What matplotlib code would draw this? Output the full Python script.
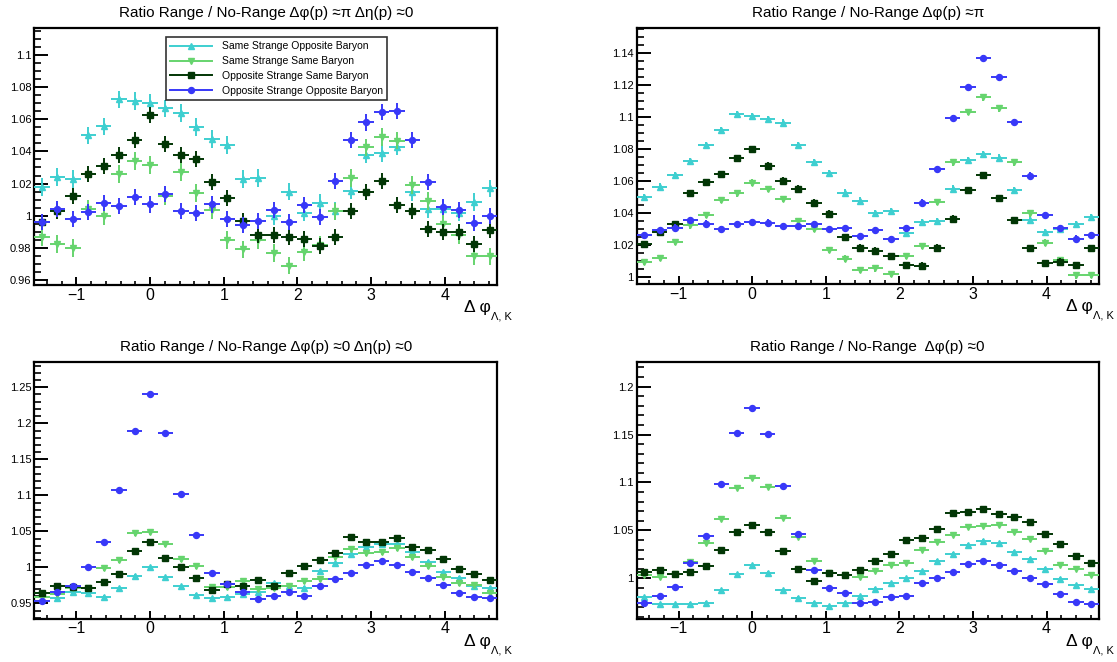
import numpy as np
import matplotlib
matplotlib.use('Agg')
import matplotlib.pyplot as plt
from matplotlib.lines import Line2D
from matplotlib.ticker import MultipleLocator, FuncFormatter

plt.rcParams['font.family'] = ['Liberation Sans', 'DejaVu Sans']

# ---------------- data ----------------
n_bins = 30
x_lo, x_hi = -np.pi / 2, 3 * np.pi / 2

series_names = ["Same Strange Opposite Baryon", "Same Strange Same Baryon",
                "Opposite Strange Same Baryon", "Opposite Strange Opposite Baryon"]

titles = ["Ratio Range / No-Range \u0394\u03c6(p) \u2248\u03c0 \u0394\u03b7(p) \u22480",
          "Ratio Range / No-Range \u0394\u03c6(p) \u2248\u03c0",
          "Ratio Range / No-Range \u0394\u03c6(p) \u22480 \u0394\u03b7(p) \u22480",
          "Ratio Range / No-Range  \u0394\u03c6(p) \u22480"]

# panel 1: dphi ~ pi, deta ~ 0
p1_ssob = [1.018, 1.024, 1.023, 1.050, 1.0556, 1.0724, 1.0714, 1.0703, 1.0668, 1.0639,
           1.055, 1.0477, 1.044, 1.0228, 1.0236, 0.9996, 1.015, 1.002, 1.008, 1.003,
           1.0156, 1.038, 1.039, 1.043, 1.0145, 1.004, 1.004, 1.002, 1.0087, 1.017]
p1_sssb = [0.9867, 0.9824, 0.980, 1.004, 0.9996, 1.026, 1.034, 1.0315, 1.012, 1.027,
           1.014, 1.0033, 0.9847, 0.979, 0.985, 0.977, 0.969, 0.9774, 0.982, 1.0027,
           1.0234, 1.0425, 1.049, 1.0467, 1.019, 1.009, 0.995, 0.988, 0.9747, 0.9747]
p1_ossb = [0.996, 1.003, 1.012, 1.026, 1.0307, 1.038, 1.047, 1.0624, 1.0446, 1.0375,
           1.035, 1.0207, 1.011, 0.997, 0.988, 0.9878, 0.9865, 0.9857, 0.981, 0.987,
           1.003, 1.0147, 1.0214, 1.0068, 1.003, 0.992, 0.990, 0.990, 0.9826, 0.991]
p1_osob = [0.9959, 1.004, 0.998, 1.0025, 1.008, 1.006, 1.0116, 1.007, 1.0137, 1.003,
           1.0015, 1.007, 0.998, 0.994, 0.997, 1.0033, 0.996, 1.0064, 0.9994, 1.0218,
           1.0473, 1.058, 1.0643, 1.0653, 1.0473, 1.0207, 1.0054, 1.0033, 0.9954, 0.9996]
p1_err = [0.0055, 0.0055, 0.005, 0.005]

# panel 2: dphi ~ pi
p2_ssob = [1.0498, 1.0565, 1.0638, 1.0724, 1.0826, 1.092, 1.1018, 1.1007, 1.0989, 1.0966,
           1.0824, 1.0717, 1.0649, 1.0528, 1.0478, 1.0398, 1.0413, 1.0277, 1.0344, 1.0352,
           1.0553, 1.0732, 1.077, 1.0747, 1.0544, 1.0357, 1.0279, 1.030, 1.0332, 1.0377]
p2_sssb = [1.0094, 1.0117, 1.0219, 1.0323, 1.0388, 1.0482, 1.0523, 1.059, 1.055, 1.0488,
           1.035, 1.030, 1.0169, 1.0115, 1.0044, 1.0054, 1.0017, 1.0131, 1.0192, 1.0469,
           1.0717, 1.1034, 1.1124, 1.1055, 1.0717, 1.0398, 1.0215, 1.0106, 1.001, 1.0013]
p2_ossb = [1.0206, 1.0284, 1.033, 1.0523, 1.0594, 1.0642, 1.0745, 1.0801, 1.0697, 1.0603,
           1.0553, 1.0465, 1.0396, 1.0252, 1.0184, 1.0165, 1.0131, 1.0075, 1.0071, 1.0184,
           1.0365, 1.0546, 1.064, 1.0496, 1.0355, 1.0179, 1.0086, 1.0096, 1.0075, 1.0179]
p2_osob = [1.0263, 1.0294, 1.0309, 1.0357, 1.0334, 1.030, 1.033, 1.0344, 1.034, 1.0319,
           1.0319, 1.0332, 1.030, 1.0304, 1.0254, 1.0294, 1.0236, 1.0307, 1.0465, 1.0676,
           1.0995, 1.1187, 1.137, 1.1249, 1.097, 1.0634, 1.0388, 1.0304, 1.024, 1.0263]
p2_err = [0.002, 0.002, 0.002, 0.002]

# panel 3: dphi ~ 0, deta ~ 0
p3_ssob = [0.9648, 0.9574, 0.9657, 0.9639, 0.9593, 0.9713, 0.9884, 1.0005, 0.9866, 0.9741,
           0.962, 0.957, 0.9593, 0.9634, 0.9662, 0.9778, 0.9736, 0.972, 0.9954, 1.0056,
           1.0185, 1.0278, 1.0324, 1.0324, 1.0218, 1.008, 0.993, 0.9856, 0.9745, 0.9718]
p3_sssb = [0.9593, 0.963, 0.972, 0.9708, 0.9995, 1.0097, 1.0472, 1.049, 1.0324, 1.0111,
           1.0023, 0.9731, 0.9722, 0.981, 0.9694, 0.9713, 0.9741, 0.9815, 0.9843, 1.0148,
           1.025, 1.0194, 1.0218, 1.0264, 1.0148, 1.0019, 0.987, 0.9778, 0.9755, 0.9648]
p3_ossb = [0.964, 0.9745, 0.973, 0.9708, 0.9796, 0.9912, 1.0227, 1.0352, 1.0125, 1.0005,
           0.9852, 0.9685, 0.9769, 0.9741, 0.982, 0.9741, 0.9926, 1.0023, 1.0102, 1.0194,
           1.0426, 1.0352, 1.0356, 1.0407, 1.0278, 1.024, 1.0116, 0.9977, 0.9912, 0.9824]
p3_osob = [0.9532, 0.9662, 0.9745, 1.0005, 1.0347, 1.108, 1.19, 1.240, 1.187, 1.1014,
           1.0444, 0.9921, 0.9773, 0.9653, 0.956, 0.960, 0.9653, 0.960, 0.974, 0.9833,
           0.9917, 1.003, 1.0093, 1.0032, 0.993, 0.9856, 0.9755, 0.9648, 0.9593, 0.9574]
p3_err = [0.002, 0.004, 0.002, 0.002]

# panel 4: dphi ~ 0
p4_ssob = [0.9802, 0.9732, 0.9729, 0.9736, 0.9746, 0.9878, 1.0042, 1.0136, 1.0056, 0.9875,
           0.9798, 0.9746, 0.9708, 0.9746, 0.9812, 0.9889, 0.9948, 1.0003, 1.0076, 1.0181,
           1.0254, 1.0348, 1.0393, 1.0365, 1.0275, 1.0202, 1.0101, 0.9993, 0.993, 0.9892]
p4_sssb = [1.0035, 1.001, 1.0049, 1.0167, 1.0369, 1.0619, 1.0939, 1.105, 1.0949, 1.0633,
           1.0431, 1.0177, 1.0056, 1.0038, 1.001, 1.008, 1.0143, 1.016, 1.0292, 1.0379,
           1.0449, 1.0539, 1.0549, 1.056, 1.048, 1.041, 1.0282, 1.0136, 1.0097, 1.0038]
p4_ossb = [1.0063, 1.0083, 1.0049, 1.007, 1.0132, 1.0296, 1.0483, 1.056, 1.0483, 1.0289,
           1.0097, 0.9976, 1.0059, 1.0035, 1.0083, 1.0177, 1.0257, 1.0403, 1.0421, 1.0515,
           1.0685, 1.0692, 1.0723, 1.0671, 1.0636, 1.0584, 1.0466, 1.0358, 1.0236, 1.0163]
p4_osob = [0.9746, 0.9812, 0.9906, 1.0156, 1.0442, 1.0987, 1.1516, 1.1777, 1.1509, 1.096,
           1.0466, 1.0083, 0.9899, 0.9847, 0.9739, 0.975, 0.9809, 0.9819, 0.9948, 1.0,
           1.0063, 1.0153, 1.0177, 1.0136, 1.008, 1.0007, 0.9937, 0.9837, 0.9757, 0.9732]
p4_err = [0.0015, 0.0015, 0.0015, 0.0015]

panel_data = [
    ([p1_ssob, p1_sssb, p1_ossb, p1_osob], p1_err),
    ([p2_ssob, p2_sssb, p2_ossb, p2_osob], p2_err),
    ([p3_ssob, p3_sssb, p3_ossb, p3_osob], p3_err),
    ([p4_ssob, p4_sssb, p4_ossb, p4_osob], p4_err),
]

x_ticks = [-1, 0, 1, 2, 3, 4]

# ---------------- style ----------------
colors = ['#3ECFD0', '#66D46E', '#023605', '#3838F8']
markers = ['^', 'v', 's', 'o']

y_ranges = [(0.9569, 1.1166), (0.9956, 1.156), (0.9287, 1.2847), (0.9578, 1.226)]
y_major = [0.02, 0.02, 0.05, 0.05]
y_minor = [0.005, 0.005, 0.01, 0.01]

W, H = 1117, 662
frames_px = [(34.3, 28.3, 497.3, 285.0), (636.5, 27.7, 1099.0, 284.0),
             (34.3, 362.3, 497.3, 618.7), (636.5, 361.7, 1099.0, 618.7)]

fig = plt.figure(figsize=(W / 100, H / 100), dpi=100)

edges = np.linspace(x_lo, x_hi, n_bins + 1)
centers = 0.5 * (edges[:-1] + edges[1:])
half_w = 0.5 * (edges[1] - edges[0])

fmt = FuncFormatter(lambda v, p: ('%g' % round(v, 5)))
xfmt = FuncFormatter(lambda v, p: ('%g' % v).replace('-', '\u2212'))

axes = []
for k, (l, t, r, b) in enumerate(frames_px):
    ax = fig.add_axes([l / W, 1 - b / H, (r - l) / W, (b - t) / H])
    axes.append(ax)
    vals_list, errs = panel_data[k]
    for s in range(4):
        ax.errorbar(centers, vals_list[s], xerr=half_w, yerr=errs[s],
                    fmt=markers[s], color=colors[s], mfc=colors[s], mec=colors[s],
                    ms=4.3, elinewidth=1.4, capsize=0, zorder=3 + s)
    ax.set_xlim(x_lo, x_hi)
    ax.set_ylim(*y_ranges[k])
    ax.set_xticks(x_ticks)
    ax.xaxis.set_minor_locator(MultipleLocator(0.2))
    ax.yaxis.set_major_locator(MultipleLocator(y_major[k]))
    ax.yaxis.set_minor_locator(MultipleLocator(y_minor[k]))
    ax.yaxis.set_major_formatter(fmt)
    ax.xaxis.set_major_formatter(xfmt)
    for sp in ax.spines.values():
        sp.set_linewidth(1.6)
        sp.set_color('black')
    ax.tick_params(axis='x', which='major', direction='in', length=5.5, width=1.4,
                   labelsize=11.5, pad=2, top=False)
    ax.tick_params(axis='x', which='minor', direction='in', length=2.8, width=1.2, top=False)
    ax.tick_params(axis='y', which='major', direction='in', length=10, width=1.4,
                   labelsize=8, pad=2, right=False)
    ax.tick_params(axis='y', which='minor', direction='in', length=5, width=1.2, right=False)
    fh = b - t
    fw = r - l
    ax.text(0.5, 1 + 15.0 / fh, titles[k], transform=ax.transAxes, ha='center', va='center',
            fontsize=11)
    ax.text(1 - 6 / fw, -22.5 / fh, "\u0394 \u03c6", transform=ax.transAxes,
            ha='right', va='center', fontsize=12.5)
    ax.text(1 - 6 / fw, -31.5 / fh, "\u039b, \u039a", transform=ax.transAxes,
            ha='left', va='center', fontsize=8)

handles = [Line2D([0], [0], color=colors[s], marker=markers[s], ms=4.3, lw=1.4,
                  mfc=colors[s], mec=colors[s]) for s in range(4)]
leg = axes[0].legend(handles, series_names, loc='upper left', bbox_to_anchor=(0.284, 0.967),
                     borderaxespad=0, fontsize=7.5, frameon=True, fancybox=False,
                     edgecolor='black', handlelength=4.0, labelspacing=0.45,
                     borderpad=0.45, handletextpad=0.9)
leg.get_frame().set_linewidth(1.2)
leg.set_zorder(20)

fig.savefig('out.png', dpi=100)
